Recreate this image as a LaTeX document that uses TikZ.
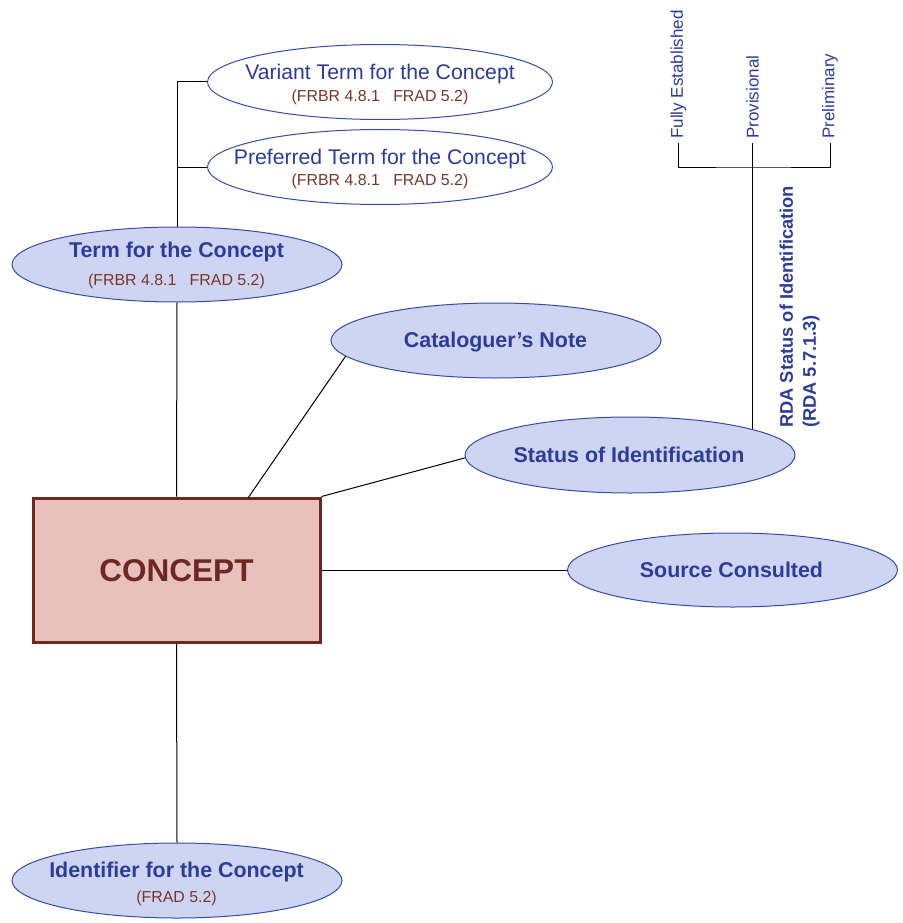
\documentclass[tikz,border=0pt]{standalone}
\usepackage{fontspec}
\setmainfont{Liberation Sans}
\usetikzlibrary{shapes.geometric}
\definecolor{txtblue}{RGB}{45,60,155}
\definecolor{ellline}{RGB}{55,75,170}
\definecolor{ellfill}{RGB}{205,213,242}
\definecolor{subbrown}{RGB}{120,55,45}
\definecolor{cline}{RGB}{108,40,35}
\definecolor{cfill}{RGB}{232,192,188}
\tikzset{
  ellw/.style={ellipse, draw=ellline, line width=1pt, fill=white, inner sep=0pt},
  ellb/.style={ellipse, draw=ellline, line width=1pt, fill=ellfill, inner sep=0pt},
  maintxt/.style={anchor=base, inner sep=0pt, text=txtblue, font=\fontsize{21.2}{25}\selectfont},
  boldtxt/.style={anchor=base, inner sep=0pt, text=txtblue, font=\fontsize{21.4}{25}\selectfont\bfseries},
  subtxt/.style={anchor=base, inner sep=0pt, text=subbrown, font=\fontsize{15.9}{19}\selectfont},
  rottxt/.style={anchor=west, rotate=90, inner sep=0pt, text=txtblue, font=\fontsize{17}{20}\selectfont},
  conn/.style={draw=black, line width=1pt},
}
\begin{document}
\begin{tikzpicture}[x=1pt,y=-1pt]
\useasboundingbox (0,0) rectangle (902,923);

% concept box
\node[draw=cline, line width=3pt, fill=cfill, minimum width=287pt, minimum height=144pt, inner sep=0pt] (concept) at (176.5,570) {};
\node[anchor=base, inner sep=0pt, text=cline, font=\fontsize{31.5}{36}\selectfont\bfseries] (conceptT) at (176.5,581.5) {CONCEPT};

% ellipses
\node[ellw, minimum width=345pt, minimum height=75pt] (var) at (380,82) {};
\node[ellw, minimum width=345pt, minimum height=75pt] (pref) at (380,167) {};
\node[ellb, minimum width=330pt, minimum height=75pt] (term) at (177,264.5) {};
\node[ellb, minimum width=330pt, minimum height=75pt] (cat) at (496,340.5) {};
\node[ellb, minimum width=330pt, minimum height=76pt] (stat) at (630,455) {};
\node[ellb, minimum width=330pt, minimum height=74pt] (src) at (732.5,570) {};
\node[ellb, minimum width=330pt, minimum height=75pt] (ident) at (177,880.5) {};

% texts
\node[maintxt] (varT) at (380,79.3) {Variant Term for the Concept};
\node[subtxt] (varS) at (380,101.5) {(FRBR 4.8.1\ \ \ FRAD 5.2)};
\node[maintxt] (prefT) at (380,164) {Preferred Term for the Concept};
\node[subtxt] (prefS) at (380,185.5) {(FRBR 4.8.1\ \ \ FRAD 5.2)};
\node[boldtxt] (termT) at (176.5,257.3) {Term for the Concept};
\node[subtxt] (termS) at (176.5,285.5) {(FRBR 4.8.1\ \ \ FRAD 5.2)};
\node[boldtxt] (catT) at (495.5,347.5) {Cataloguer’s Note};
\node[boldtxt] (statT) at (629,462.5) {Status of Identification};
\node[boldtxt] (srcT) at (731.5,577.5) {Source Consulted};
\node[boldtxt] (identT) at (176.5,877.3) {Identifier for the Concept};
\node[subtxt] (identS) at (176.5,902.5) {(FRAD 5.2)};

% status values
\coordinate (fe) at (678.5,143);
\coordinate (pv) at (752.5,143);
\coordinate (pl) at (830,143);
\coordinate (bar) at (752.5,167);
\node[rottxt] (feT) at (678.5,139) {Fully Established};
\node[rottxt] (pvT) at (752.5,139) {Provisional};
\node[rottxt] (plT) at (830,139) {Preliminary};
\node[anchor=north west, rotate=90, inner sep=0pt, align=left, text=txtblue,
      font=\fontsize{18.3}{23}\selectfont\bfseries] (rdaT) at (779.5,428)
      {RDA Status of Identification\\(RDA 5.7.1.3)};

% connectors
\draw[conn] (var.west) -| (term.north);
\draw[conn] (pref.west) -- (pref.west -| term.north);
\draw[conn] (term.south) -- (concept.north);
\coordinate (cn) at (248,498);
\draw[conn] (cn) -- (cat.186);
\draw[conn] (concept.north east) -- (stat.181);
\draw[conn] (concept.east) -- (src.west);
\draw[conn] (concept.south) -- (ident.north);
\draw[conn] (fe) |- (bar) -| (pl);
\draw[conn] (pv) -- (bar) -- (bar |- stat.12);
\end{tikzpicture}
\end{document}
